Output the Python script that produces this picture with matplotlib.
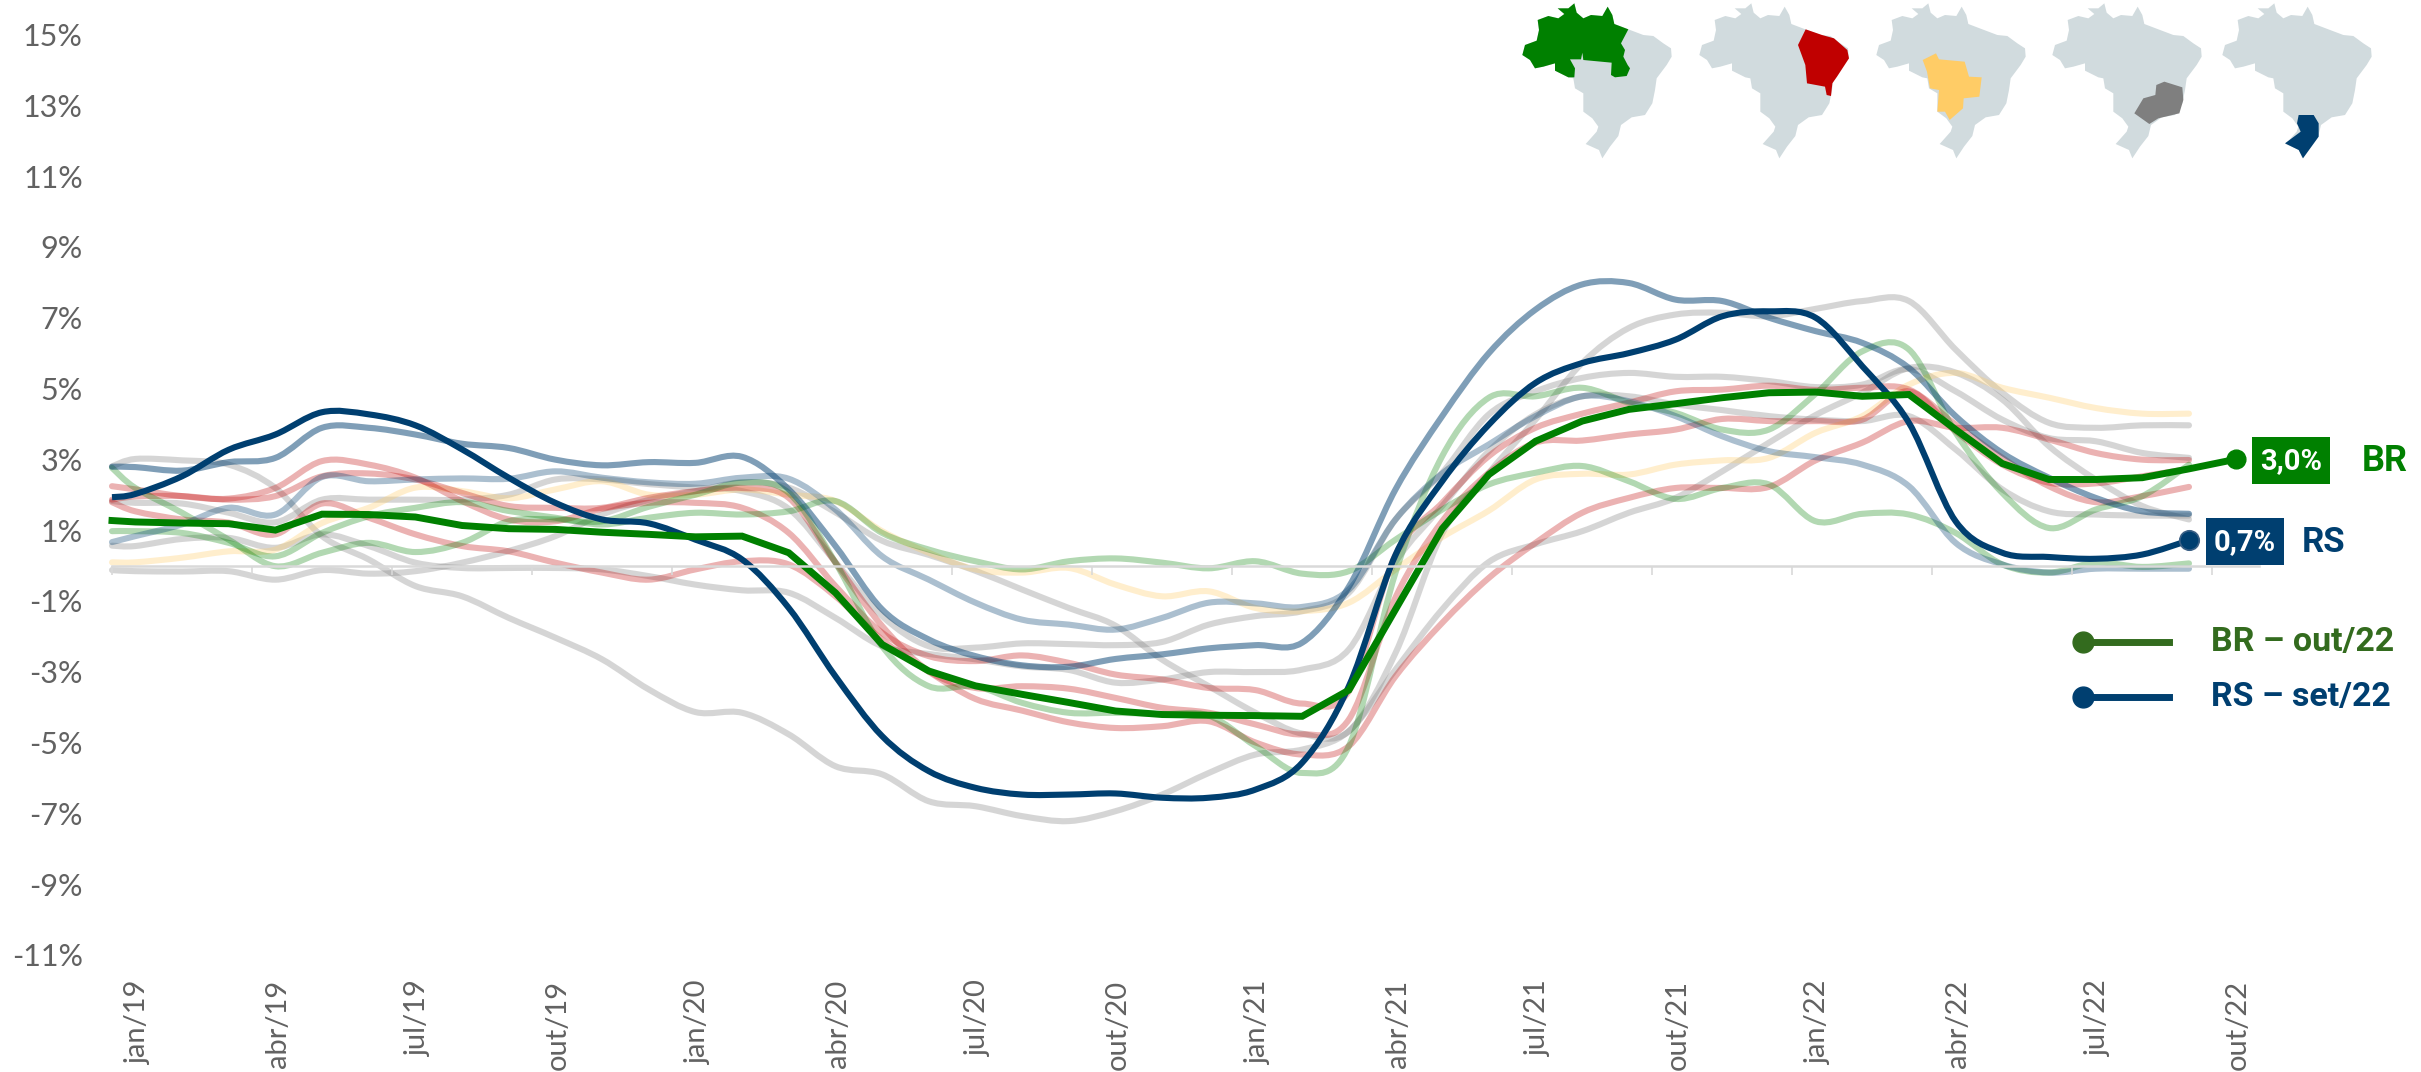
import matplotlib
import matplotlib.pyplot as plt
from matplotlib.lines import Line2D
from matplotlib.patches import PathPatch, Polygon, Rectangle
from matplotlib.path import Path
matplotlib.use('Agg')

plt.rcParams['font.family'] = ['Lato', 'DejaVu Sans']
BOLD = ['Roboto', 'DejaVu Sans']

tick_labels = ['jan/19', 'abr/19', 'jul/19', 'out/19', 'jan/20', 'abr/20',
               'jul/20', 'out/20', 'jan/21', 'abr/21', 'jul/21', 'out/21',
               'jan/22', 'abr/22', 'jul/22', 'out/22']
y_ticks = list(range(-11, 16, 2))

# first value of each series sits on the left edge, the others mid-month
br = [1.27, 1.23, 1.20, 1.18, 1.0, 1.45, 1.44, 1.37, 1.13, 1.04, 1.02, .94,
      .88, .81, .83, .36, -.77, -2.23, -2.98, -3.4, -3.64, -3.87, -4.11,
      -4.21, -4.23, -4.24, -4.26, -3.52, -1.24, 1.04, 2.57, 3.51, 4.08, 4.41,
      4.57, 4.74, 4.88, 4.9, 4.78, 4.83, 3.84, 2.88, 2.43, 2.43, 2.48, 2.73,
      3.0]
rs = [1.93, 2.02, 2.52, 3.27, 3.70, 4.33, 4.27, 3.96, 3.28, 2.48, 1.77, 1.30,
      1.19, .73, .17, -1.2, -3.13, -4.82, -5.81, -6.28, -6.47, -6.47, -6.44,
      -6.56, -6.56, -6.33, -5.57, -3.41, .3, 2.38, 3.98, 5.16, 5.72, 6.0,
      6.38, 7.04, 7.18, 7.0, 5.63, 4.03, 1.25, .36, .24, .19, .31, .71]
blue_a = [2.79, 2.78, 2.68, 2.92, 3.04, 3.89, 3.89, 3.70, 3.44, 3.32, 2.99,
          2.83, 2.92, 2.9, 3.07, 2.15, .55, -1.24, -2.09, -2.56, -2.82, -2.86,
          -2.64, -2.51, -2.34, -2.25, -2.18, -.6, 2.15, 4.22, 6.0, 7.23, 7.94,
          7.98, 7.51, 7.47, 7.0, 6.62, 6.29, 5.58, 4.22, 3.18, 2.48, 1.91,
          1.53, 1.46]
blue_b = [.66, .83, 1.16, 1.63, 1.44, 2.50, 2.38, 2.43, 2.46, 2.45, 2.66, 2.48,
          2.35, 2.31, 2.48, 2.45, 1.58, .26, -.4, -1.05, -1.53, -1.67, -1.81,
          -1.48, -1.05, -1.07, -1.17, -.68, 1.3, 2.6, 3.42, 4.22, 4.78, 4.64,
          4.22, 3.65, 3.23, 3.06, 2.85, 2.24, .64, .03, -.2, -.09, -.09, -.09]
gray_a = [2.8, 3.01, 2.97, 2.85, 2.19, .83, .17, -.58, -.87, -1.48, -2.04,
          -2.65, -3.5, -4.14, -4.16, -4.77, -5.67, -5.9, -6.66, -6.8, -7.08,
          -7.22, -6.94, -6.47, -5.86, -5.34, -5.2, -4.68, -2.94, -1.24, .1,
          .6, .97, 1.49, 1.91, 2.66, 3.47, 4.25, 4.88, 5.58, 5.45, 4.69, 3.37,
          2.43, 1.68, 1.3]
gray_b = [-.13, -.16, -.17, -.16, -.4, -.13, -.23, -.16, .08, .41, .83, 1.44,
          1.85, 2.1, 2.35, 2.2, 1.5, .7, .3, -.15, -.68, -1.2, -1.7, -2.66,
          -3.41, -4.16, -4.75, -4.68, -2.47, .9, 2.62, 4.12, 5.72, 6.71, 7.09,
          7.14, 7.04, 7.25, 7.47, 7.47, 6.1, 4.88, 4.03, 3.89, 3.96, 3.96]
gray_c = [1.82, 1.77, 1.75, 1.49, 1.22, 1.86, 1.86, 1.86, 1.86, 2.0, 2.43,
          2.43, 2.3, 2.2, 2.1, 1.6, .1, -1.43, -2.28, -2.32, -2.2, -2.22,
          -2.25, -2.16, -1.67, -1.43, -1.29, -.77, 1.3, 2.62, 4.27, 4.92, 5.3,
          5.44, 5.33, 5.33, 5.21, 5.04, 5.11, 5.55, 4.92, 4.12, 3.6, 3.51,
          3.18, 3.04]
gray_d = [.56, .55, .75, .78, .5, .88, .55, .08, -.07, -.07, -.07, -.11, -.3,
          -.54, -.7, -.77, -1.48, -2.28, -2.5, -2.65, -2.85, -2.95, -3.31,
          -3.22, -3.01, -3.01, -2.94, -2.37, .1, 1.68, 3.23, 4.27, 4.78, 4.78,
          4.55, 4.39, 4.22, 4.12, 4.08, 4.22, 3.28, 2.15, 1.53, 1.44, 1.41,
          1.41]
red_a = [2.24, 2.15, 1.96, 1.89, 2.19, 2.95, 2.85, 2.48, 1.82, 1.3, 1.25, 1.6,
         1.77, 1.77, 1.63, .92, -.58, -1.9, -2.56, -2.7, -2.54, -2.75, -3.08,
         -3.22, -3.46, -3.52, -3.9, -3.55, .3, 1.77, 3.09, 3.89, 4.29, 4.6,
         4.92, 4.97, 5.08, 4.96, 5.02, 4.97, 3.98, 3.04, 2.24, 1.79, 1.96,
         2.22]
red_b = [1.86, 1.95, 1.96, 1.86, 1.96, 2.52, 2.6, 2.43, 2.05, 1.68, 1.63, 1.63,
         1.91, 2.1, 2.19, 1.91, .08, -1.71, -2.98, -3.46, -3.41, -3.48, -3.74,
         -4.02, -4.16, -4.49, -4.77, -4.35, -.9, 1.25, 2.62, 3.47, 3.53, 3.7,
         3.84, 4.14, 4.08, 4.08, 4.12, 4.92, 3.79, 2.85, 2.34, 2.32, 2.52,
         2.73]
red_c = [1.79, 1.53, 1.3, 1.21, .88, 1.75, 1.35, .88, .55, .4, .08, -.2, -.4,
         -.11, .12, .03, -.87, -2.1, -3.0, -3.77, -4.1, -4.43, -4.59, -4.54,
         -4.4, -5.0, -5.34, -5.1, -3.13, -1.62, -.35, .64, 1.49, 1.91, 2.19,
         2.19, 2.22, 2.97, 3.47, 4.08, 3.89, 3.89, 3.56, 3.18, 2.99, 2.98]
green_a = [2.76, 2.19, 1.49, .73, -.02, .36, .64, .38, .64, 1.25, 1.3, 1.25,
           1.66, 2.0, 2.34, 2.05, .08, -2.28, -3.41, -3.41, -3.88, -4.16,
           -4.16, -4.2, -4.24, -5.1, -5.86, -5.1, -.2, 3.09, 4.74, 4.78, 5.02,
           4.6, 4.31, 3.84, 3.84, 4.85, 6.05, 6.1, 3.75, 2.05, 1.06, 1.58,
           1.96, 2.85]
green_b = [.97, .97, .92, .64, .26, .92, 1.39, 1.63, 1.79, 1.54, 1.35, 1.16,
           1.35, 1.49, 1.44, 1.53, 1.82, .92, .45, .12, -.11, .12, .2, .08,
           -.08, .12, -.23, -.16, .73, 1.58, 2.29, 2.62, 2.81, 2.38, 1.88,
           2.19, 2.29, 1.25, 1.46, 1.44, .92, .03, -.2, .08, -.04, .06]
yellow = [.09, .09, .22, .4, .45, 1.2, 1.63, 2.2, 2.1, 1.9, 2.15, 2.38, 2.0,
          2.0, 2.15, 2.0, 1.82, .97, .36, -.11, -.2, -.07, -.54, -.87, -.73,
          -1.2, -1.29, -1.05, -.11, .8, 1.55, 2.43, 2.59, 2.57, 2.85, 2.97,
          3.04, 3.75, 4.22, 5.11, 5.44, 5.02, 4.74, 4.45, 4.29, 4.29]

# map outlines, in thirds of a pixel from the first map's corner
brazil = [(178, 10), (185, 38), (205, 55), (228, 45), (262, 48), (278, 20),
          (292, 45), (298, 72), (340, 88), (385, 105), (415, 108), (445, 130),
          (468, 145), (470, 170), (455, 195), (425, 235), (420, 270),
          (412, 310), (390, 345), (350, 352), (318, 375), (310, 408),
          (285, 440), (262, 475), (252, 450), (212, 432), (245, 395),
          (250, 380), (232, 355), (205, 335), (205, 280), (180, 265),
          (175, 235), (160, 232), (120, 212), (120, 190), (85, 200), (60, 205),
          (45, 180), (22, 165), (30, 135), (65, 122), (72, 90), (68, 60),
          (100, 48), (130, 55), (148, 42), (128, 25), (160, 25)]
norte = [(178, 10), (185, 38), (205, 55), (228, 45), (262, 48), (278, 20),
         (292, 45), (298, 72), (340, 88), (318, 130), (330, 150), (325, 170),
         (338, 195), (345, 205), (335, 228), (300, 232), (288, 225),
         (290, 188), (205, 180), (202, 158), (198, 178), (165, 178),
         (180, 205), (178, 232), (160, 232), (120, 212), (120, 190), (85, 200),
         (60, 205), (45, 180), (22, 165), (30, 135), (65, 122), (72, 90),
         (68, 60), (100, 48), (130, 55), (148, 42), (128, 25), (160, 25)]
nordeste = [(341, 88), (390, 105), (426, 115), (466, 150), (471, 175),
            (435, 230), (421, 250), (417, 288), (404, 285), (399, 260),
            (345, 250), (340, 195), (318, 135)]
centro_oeste = [(201, 160), (210, 178), (287, 185), (300, 230), (338, 232),
                (331, 290), (284, 295), (282, 325), (242, 360), (228, 335),
                (205, 335), (210, 270), (183, 265), (174, 215), (161, 180)]
sudeste = [(358, 245), (412, 262), (415, 300), (403, 340), (340, 355),
           (313, 372), (268, 340), (295, 295), (331, 285), (334, 255)]
sul = [(251, 345), (296, 345), (311, 370), (311, 410), (264, 475), (251, 450),
       (210, 430), (257, 395), (246, 370)]


def smooth_path(x, y):
    '''
    Bezier path through the points, like a smoothed spreadsheet line
    '''
    pts = list(zip(x, y))
    verts = [pts[0]]
    codes = [Path.MOVETO]
    for i in range(len(pts) - 1):
        p0 = pts[max(i - 1, 0)]
        p1 = pts[i]
        p2 = pts[i + 1]
        p3 = pts[min(i + 2, len(pts) - 1)]
        c1 = (p1[0] + (p2[0] - p0[0]) / 6, p1[1] + (p2[1] - p0[1]) / 6)
        c2 = (p2[0] - (p3[0] - p1[0]) / 6, p2[1] - (p3[1] - p1[1]) / 6)
        verts += [c1, c2, p2]
        codes += [Path.CURVE4] * 3
    return Path(verts, codes)


def months(values):
    return [0] + [i + 0.5 for i in range(len(values) - 1)]


W, H = 2421, 1072
fig = plt.figure(figsize=(W / 100, H / 100), dpi=100)

# axes placed so that -11..15 and 46 months land where the reference has them
ax = fig.add_axes([112 / W, 1 - 954.9 / H, 2147 / W, 920.4 / H])
ax.set_xlim(0, 46)
ax.set_ylim(-11, 15)
ax.patch.set_alpha(0)

light = [(gray_a, '#7F7F7F', .32), (gray_b, '#7F7F7F', .32),
         (gray_c, '#7F7F7F', .32), (gray_d, '#7F7F7F', .32),
         (yellow, '#FFCC66', .32), (red_a, '#C00000', .3),
         (red_b, '#C00000', .3), (red_c, '#C00000', .3),
         (green_a, '#008000', .3), (green_b, '#008000', .3),
         (blue_b, '#003F70', .33), (blue_a, '#003F70', .5)]
for values, color, alpha in light:
    ax.add_patch(PathPatch(smooth_path(months(values), values), fill=False,
                           edgecolor=color, alpha=alpha, lw=4.4,
                           capstyle='round', clip_on=False))

ax.add_patch(PathPatch(smooth_path(months(rs), rs), fill=False,
                       edgecolor='#003F70', lw=4.4, clip_on=False))
ax.plot(months(br), br, color='#008000', lw=5, solid_joinstyle='miter',
        clip_on=False)
ax.plot(months(rs)[-1], rs[-1], 'o', ms=14, color='#003F70',
        mec='#3A5F85', mew=1.2, clip_on=False)
ax.plot(months(br)[-1], br[-1], 'o', ms=13.5, color='#008000', clip_on=False)

for side in ['top', 'left', 'right']:
    ax.spines[side].set_visible(False)
ax.spines['bottom'].set_position(('data', 0))
ax.spines['bottom'].set_color('#D9D9D9')
ax.spines['bottom'].set_linewidth(1.8)
ax.set_xticks(range(0, 46, 3))
ax.set_xticklabels([])
ax.tick_params(axis='x', color='#D9D9D9', length=6.5, width=1.2)
ax.set_yticks(y_ticks)
ax.set_yticklabels([str(v) + '%' for v in y_ticks], fontsize=22,
                   color='#626262')
ax.tick_params(axis='y', length=0, pad=21)
for i, label in enumerate(tick_labels):
    ax.text(i * 3 + 0.55, -11.71, label, rotation=90, ha='center', va='top',
            fontsize=21, color='#626262', clip_on=False)

# overlay in pixels for the maps, the end labels and the legend
over = fig.add_axes([0, 0, 1, 1])
over.set_xlim(0, W)
over.set_ylim(H, 0)
over.axis('off')
over.patch.set_alpha(0)


def map_points(outline, shift):
    return [(1515 + x / 3 + shift, y / 3) for x, y in outline]


regions = [(0, norte, '#008000'), (177, nordeste, '#C00000'),
           (354, centro_oeste, '#FFCC66'), (530, sudeste, '#7F7F7F'),
           (700, sul, '#003F70')]
for shift, region, color in regions:
    over.add_patch(Polygon(map_points(brazil, shift), color='#D1DBDE', lw=0))
    over.add_patch(Polygon(map_points(region, shift), color=color, lw=0))

over.add_patch(Rectangle((2252, 437), 78, 47, color='#008000', lw=0))
over.text(2291, 461, '3,0%', color='white', fontsize=21, fontweight='bold',
          ha='center', va='center', family=BOLD)
over.text(2362, 461, 'BR', color='#008000', fontsize=26, fontweight='bold',
          ha='left', va='center', family=BOLD)
over.add_patch(Rectangle((2206, 518), 78, 47, color='#003F70', lw=0))
over.text(2245, 542, '0,7%', color='white', fontsize=21, fontweight='bold',
          ha='center', va='center', family=BOLD)
over.text(2302, 542, 'RS', color='#003F70', fontsize=25, fontweight='bold',
          ha='left', va='center', family=BOLD)

legend_rows = [(642, '#336B1E', 'BR – out/22'), (697, '#003F70', 'RS – set/22')]
for y, color, label in legend_rows:
    over.add_line(Line2D([2083, 2169], [y, y], color=color, lw=5))
    over.plot(2083, y, 'o', ms=15, color=color)
    over.text(2211, y, label, color=color, fontsize=24.5, fontweight='bold',
              ha='left', va='center', family=BOLD)
over.set_xlim(0, W)
over.set_ylim(H, 0)

fig.savefig('out.png', dpi=100)
